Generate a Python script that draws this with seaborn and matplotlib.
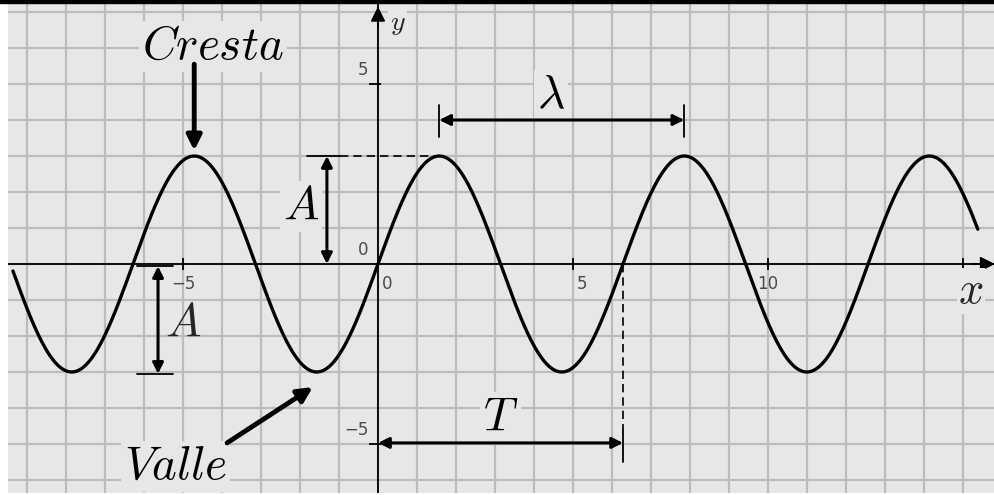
import numpy as np
import matplotlib
matplotlib.use("Agg")
import matplotlib.pyplot as plt
from matplotlib.patches import Rectangle
import seaborn as sns

# wave y = A sin(x)
amplitude = 3.0
wave_period = 2 * np.pi
x_start = -9.36
x_end = 15.38

# axis labels / ticks
x_label_values = [-5, 0, 5, 10]
x_label_texts = ["\u22125", "0", "5", "10"]
y_label_values = [5, 0, -5]
y_label_texts = ["5", "0", "\u22125"]
x_tick_marks = [-5, 5, 10, 15]
y_tick_marks = [5, -5]
grid_x = list(range(-9, 16))
grid_y = list(range(-6, 8))

BG = "#e7e7e7"
GRID = "#bcbcbc"
TICK_TXT = "#4a4a4a"

sns.set_theme(style="white")
plt.rcParams["mathtext.fontset"] = "cm"
plt.rcParams["font.family"] = ["DejaVu Sans"]

W, H = 995, 495
fig = plt.figure(figsize=(W / 100, H / 100), dpi=100, facecolor="white")
# gray drawing area: x 8..995 px, y 3..493 px
ax = fig.add_axes([8 / W, 2 / H, 987 / W, 490 / H])
ax.set_facecolor(BG)
px_x, px_y = 39.0, 36.0   # pixels per unit
ax.set_xlim((8 - 378) / px_x, (995 - 378) / px_x)
ax.set_ylim((264 - 493) / px_y, (264 - 3) / px_y)
for s in ax.spines.values():
    s.set_visible(False)
ax.set_xticks(grid_x)
ax.set_yticks(grid_y)
ax.tick_params(length=0, labelbottom=False, labelleft=False)
ax.grid(True, color=GRID, lw=1.6)
ax.set_axisbelow(True)

# black band on top
fig.patches.append(Rectangle((0, 1 - 3 / H), 1, 3 / H, transform=fig.transFigure,
                             color="black", zorder=10))

# coordinate axes
ax.axhline(0, color="black", lw=1.3, zorder=2)
ax.axvline(0, color="black", lw=1.3, zorder=2)
ax.annotate("", xy=(0, 7.15), xytext=(0, 6.6),
            arrowprops=dict(arrowstyle="-|>", color="black", lw=1.3, mutation_scale=22,
                            shrinkA=0, shrinkB=0), zorder=3)
ax.annotate("", xy=(15.82, 0), xytext=(15.2, 0),
            arrowprops=dict(arrowstyle="-|>", color="black", lw=1.3, mutation_scale=22,
                            shrinkA=0, shrinkB=0), zorder=3)
ax.plot(x_tick_marks, [0] * len(x_tick_marks), ls="none", marker="|", ms=8, mew=1.3, color="black")
ax.plot([-0.08] * len(y_tick_marks), y_tick_marks, ls="none", marker="_", ms=8, mew=1.3, color="black")

for v, t in zip(x_label_values, x_label_texts):
    dx = 0.24 if len(t) == 1 else 0.0
    ax.text(v + dx, -0.56, t, ha="center", va="center", fontsize=12, color=TICK_TXT)
for v, t in zip(y_label_values, y_label_texts):
    ax.text(-0.25, v + 0.4, t, ha="right", va="center", fontsize=12, color=TICK_TXT)

ax.text(0.5, 6.7, r"$y$", ha="center", va="center", fontsize=20,
        bbox=dict(facecolor=BG, edgecolor="none", pad=1))
ax.text(15.2, -0.75, r"$x$", ha="center", va="center", fontsize=32,
        bbox=dict(facecolor=BG, edgecolor="none", pad=1))

# the wave
xs = np.linspace(x_start, x_end, 800)
wave = amplitude * np.sin(2 * np.pi * xs / wave_period)
sns.lineplot(x=xs, y=wave, color="black", lw=2.4, ax=ax, zorder=4)

lbl = dict(ha="center", va="center", fontsize=34, color="black",
           bbox=dict(facecolor=BG, edgecolor="none", pad=2))
dbl = dict(arrowstyle="<|-|>", color="black", lw=2.2, mutation_scale=16, shrinkA=0, shrinkB=0)
one = dict(arrowstyle="-|>", color="black", lw=3.5, mutation_scale=22, shrinkA=0, shrinkB=0)

crest_x = -1.5 * np.pi
trough_x = -0.5 * np.pi

# Cresta
ax.text(-4.23, 6.05, r"$Cresta$", **lbl)
ax.annotate("", xy=(crest_x, 3.15), xytext=(crest_x, 5.55), arrowprops=one, zorder=5)

# Valle
ax.text(-5.2, -5.62, r"$Valle$", **lbl)
ax.annotate("", xy=(trough_x - 0.1, -3.42), xytext=(-3.87, -4.97), arrowprops=one, zorder=5)

# amplitude (right)
ax_r = -1.31
ax.plot([-1.82, -0.97], [amplitude, amplitude], color="black", lw=1.3)
ax.plot([-0.97, np.pi / 2], [amplitude, amplitude], color="black", lw=1.2, ls=(0, (5, 3)))
ax.annotate("", xy=(ax_r, amplitude), xytext=(ax_r, 0), arrowprops=dbl, zorder=5)
ax.text(-1.98, 1.6, r"$A$", **lbl)

# amplitude (left)
ax_l = -5.64
ax.plot([-6.18, -5.26], [-0.06, -0.06], color="black", lw=1.3)
ax.plot([-6.18, -5.26], [-amplitude - 0.05, -amplitude - 0.05], color="black", lw=1.3)
ax.annotate("", xy=(ax_l, -0.06), xytext=(ax_l, -amplitude - 0.05), arrowprops=dbl, zorder=5)
ax.text(-4.99, -1.65, r"$A$", ha="center", va="center", fontsize=34)

# wavelength
lam_y = 4.0
x0 = np.pi / 2
x1 = x0 + wave_period
ax.annotate("", xy=(x0, lam_y), xytext=(x1, lam_y), arrowprops=dbl, zorder=5)
ax.plot([x0, x0], [3.53, 4.42], color="black", lw=1.3)
ax.plot([x1, x1], [3.53, 4.42], color="black", lw=1.3)
ax.text(4.44, 4.68, r"$\lambda$", **lbl)

# period
T_y = -4.97
ax.plot([wave_period, wave_period], [0, -4.6], color="black", lw=1.2, ls=(0, (5, 3)))
ax.plot([wave_period, wave_period], [-4.6, -5.5], color="black", lw=1.3)
ax.annotate("", xy=(0, T_y), xytext=(wave_period, T_y), arrowprops=dbl, zorder=5)
ax.text(3.15, -4.27, r"$T$", **lbl)

fig.savefig("out.png", dpi=100, facecolor="white")
